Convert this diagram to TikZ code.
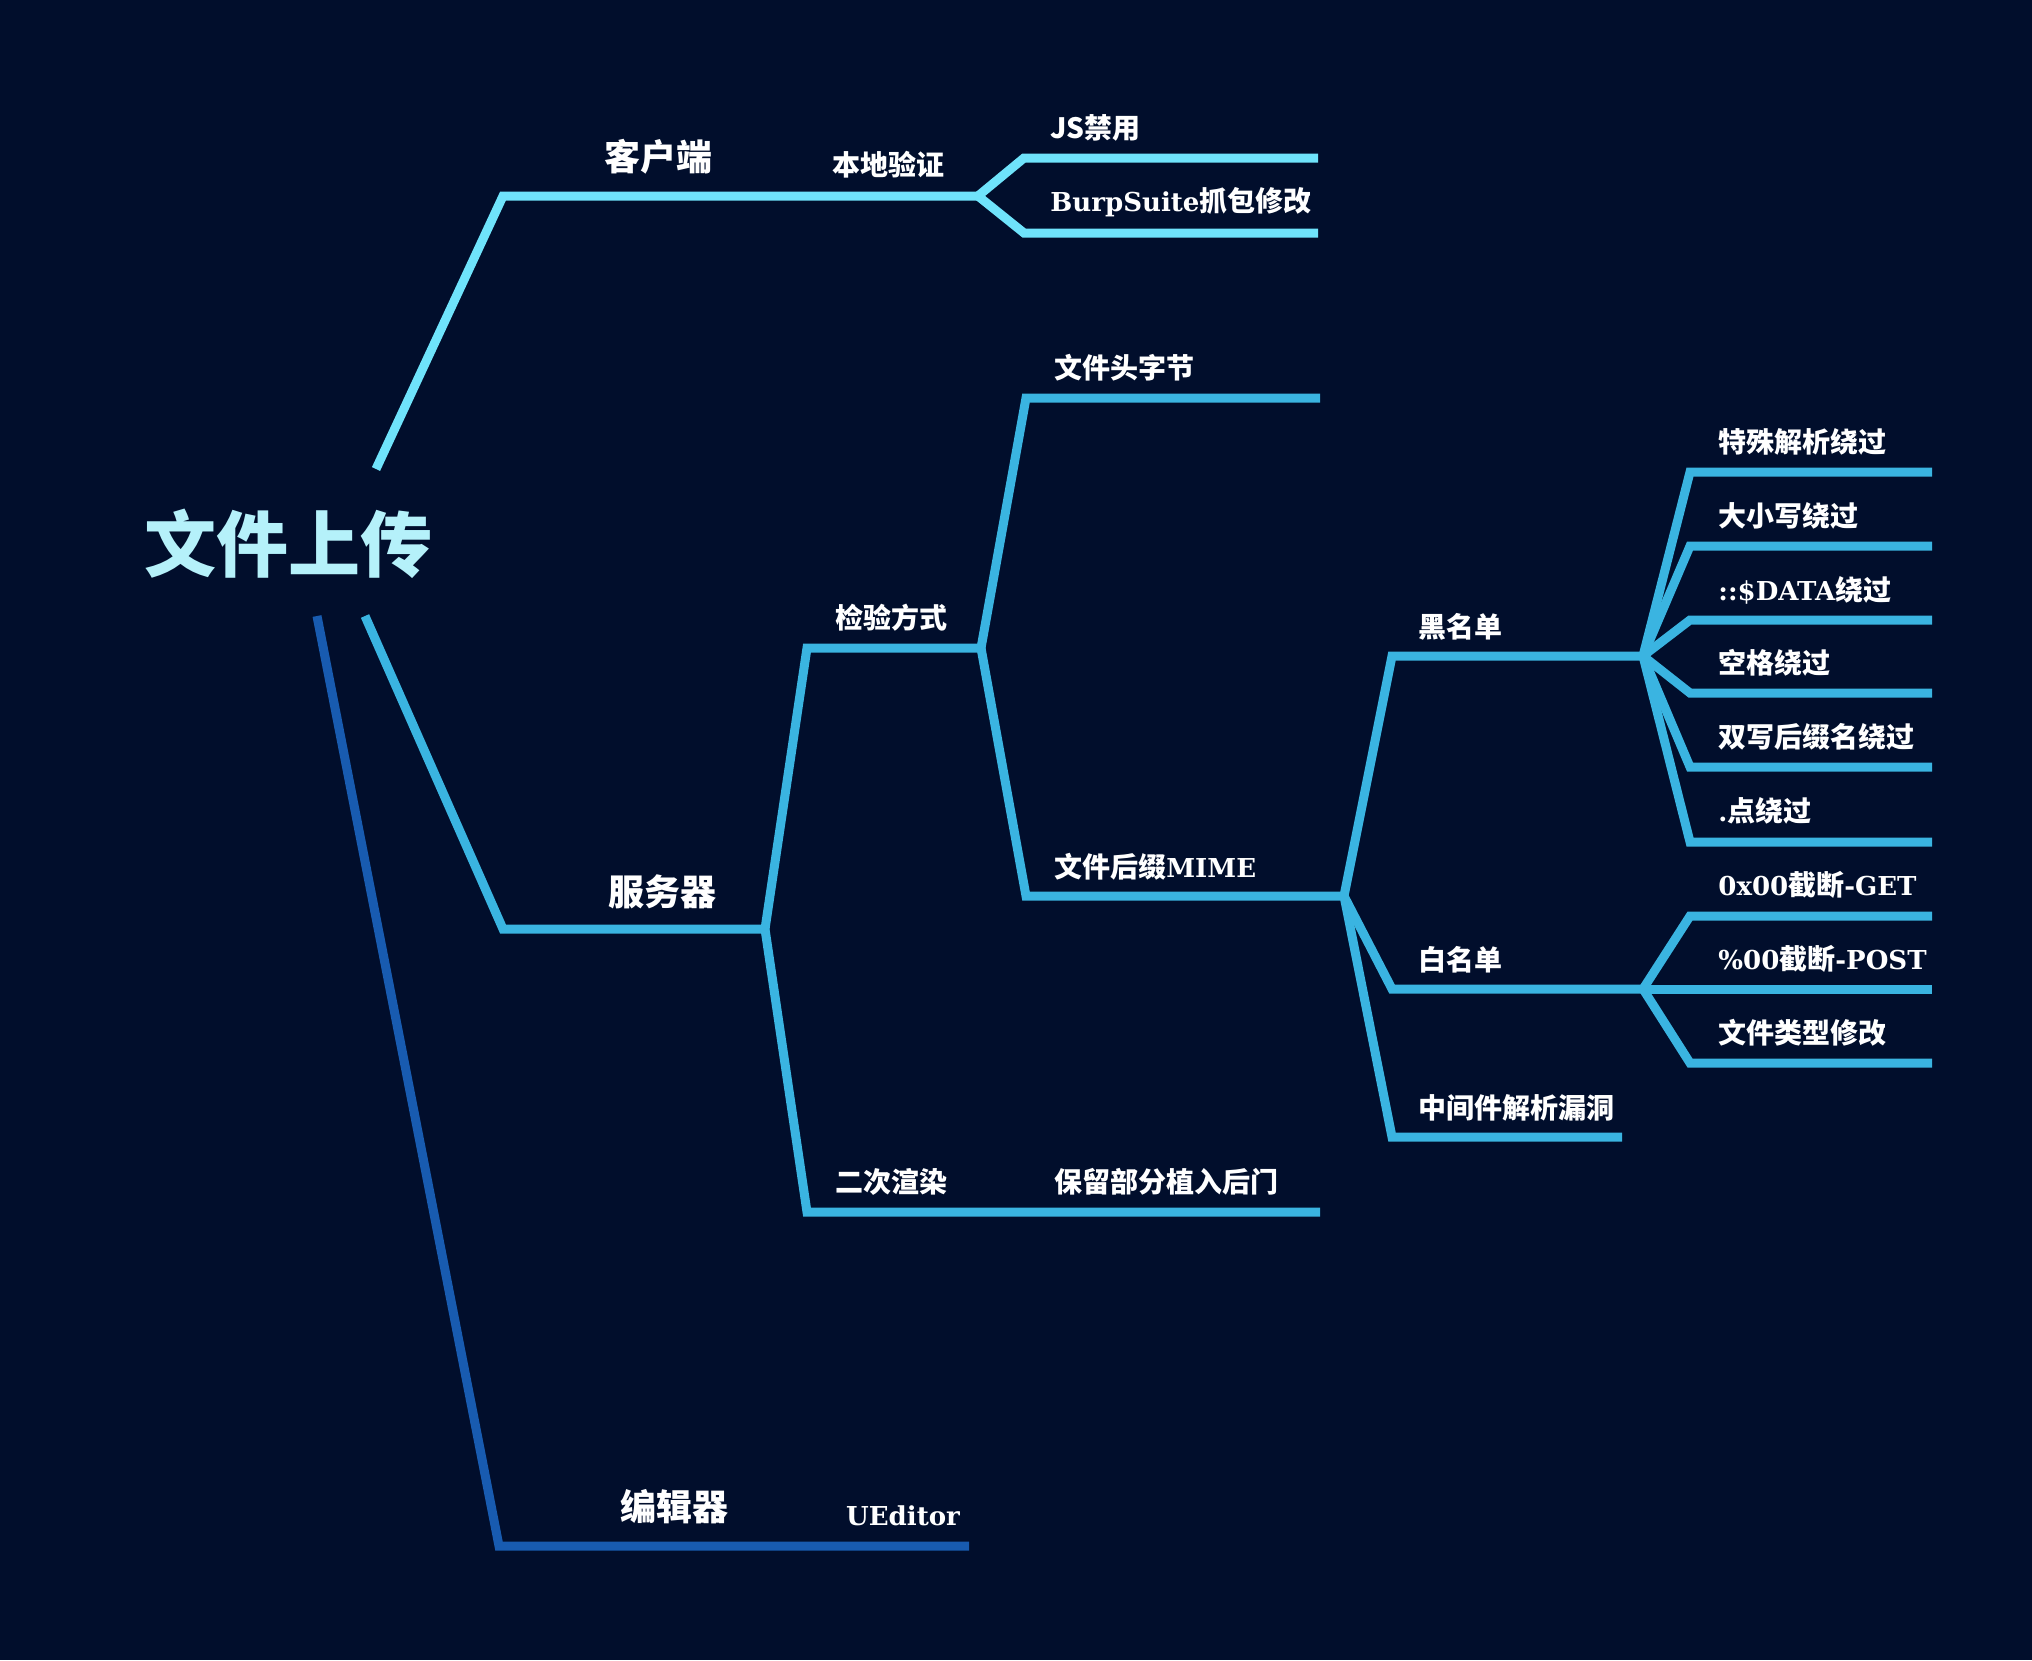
\documentclass[tikz,border=0pt]{standalone}
\usepackage{fontspec}
\setmainfont{Noto Sans CJK SC}
\newfontfamily\latf[Scale=0.93]{DejaVu Serif}
\newcommand\latw[1]{{\latf #1}}
\definecolor{bgc}{HTML}{010E2C}
\definecolor{clc}{HTML}{6FE3FB}
\definecolor{svc}{HTML}{3AB4E1}
\definecolor{edc}{HTML}{185BB0}
\definecolor{rootc}{HTML}{B5F1FA}
\begin{document}
\begin{tikzpicture}[x=0.5pt,y=-0.5pt,
  lbl/.style={text=white, inner sep=0pt, font=\bfseries\fontsize{14}{16}\selectfont},
  big/.style={text=white, inner sep=0pt, font=\bfseries\fontsize{18}{20}\selectfont},
  cl/.style={draw=clc, line width=4.5pt, line join=miter},
  sv/.style={draw=svc, line width=4.5pt, line join=miter},
  ed/.style={draw=edc, line width=4.5pt, line join=miter}]
\fill[bgc] (0,0) rectangle (2032,1660);
\useasboundingbox (0,0) rectangle (2032,1660);

% root
\node[text=rootc, inner sep=0pt, font=\bfseries\fontsize{36}{40}\selectfont] (root) at (288,544) {文件上传};

% ---------- client ----------
\coordinate (cS) at (376,469);
\coordinate (cB) at (503,196);
\coordinate (cE) at (978,196);
\draw[cl] (cS) -- (cB) -- (cE);
\coordinate (c1b) at (1024,158); \coordinate (c1e) at (1318,158);
\coordinate (c2b) at (1024,233); \coordinate (c2e) at (1318,233);
\draw[cl] (cE) -- (c1b) -- (c1e);
\draw[cl] (cE) -- (c2b) -- (c2e);
\node[big] (client) at (658,157) {客户端};
\node[lbl] (local) at (888,165) {本地验证};
\node[lbl, anchor=west] (js) at (1050,128) {JS禁用};
\node[lbl, anchor=west] (burp) at (1050,202) {\latw{BurpSuite}抓包修改};

% ---------- server ----------
\coordinate (sS) at (365,616);
\coordinate (sB) at (503,929);
\coordinate (sE) at (765,929);
\draw[sv] (sS) -- (sB) -- (sE);
\node[big] (server) at (662,892) {服务器};

\coordinate (jB) at (807,648); \coordinate (jE) at (981,648);
\draw[sv] (sE) -- (jB) -- (jE);
\node[lbl] (check) at (891,618) {检验方式};

\coordinate (rB) at (807,1212); \coordinate (rE) at (1320,1212);
\draw[sv] (sE) -- (rB) -- (rE);
\node[lbl] (render) at (891,1182) {二次渲染};
\node[lbl, anchor=west] (keep) at (1054,1182) {保留部分植入后门};

\coordinate (hB) at (1026,398); \coordinate (hE) at (1320,398);
\draw[sv] (jE) -- (hB) -- (hE);
\node[lbl, anchor=west] (head) at (1054,368) {文件头字节};

\coordinate (mB) at (1026,896); \coordinate (mE) at (1344,896);
\draw[sv] (jE) -- (mB) -- (mE);
\node[lbl, anchor=west] (mime) at (1054,867) {文件后缀\latw{MIME}};

\coordinate (bB) at (1392,656); \coordinate (bE) at (1643,656);
\draw[sv] (mE) -- (bB) -- (bE);
\node[lbl, anchor=west] (black) at (1418,627) {黑名单};

\coordinate (wB) at (1392,989); \coordinate (wE) at (1643,989);
\draw[sv] (mE) -- (wB) -- (wE);
\node[lbl, anchor=west] (white) at (1418,960) {白名单};

\coordinate (zB) at (1392,1137); \coordinate (zE) at (1622,1137);
\draw[sv] (mE) -- (zB) -- (zE);
\node[lbl, anchor=west] (mid) at (1418,1108) {中间件解析漏洞};

% blacklist leaves
\foreach \y/\n in {472/b1,546/b2,620/b3,693/b4,767/b5,842/b6}{
  \coordinate (\n B) at (1690,\y);
  \coordinate (\n E) at (1932,\y);
  \draw[sv] (bE) -- (\n B) -- (\n E);
}
\node[lbl, anchor=west] (t1) at (1718,442) {特殊解析绕过};
\node[lbl, anchor=west] (t2) at (1718,516) {大小写绕过};
\node[lbl, anchor=west] (t3) at (1718,590) {\latw{::\$DATA}绕过};
\node[lbl, anchor=west] (t4) at (1718,663) {空格绕过};
\node[lbl, anchor=west] (t5) at (1718,737) {双写后缀名绕过};
\node[lbl, anchor=west] (t6) at (1718,811) {\latw{.}点绕过};

% whitelist leaves
\coordinate (w1B) at (1690,916); \coordinate (w1E) at (1932,916);
\coordinate (w2E) at (1932,989);
\coordinate (w3B) at (1690,1063); \coordinate (w3E) at (1932,1063);
\draw[sv] (wE) -- (w1B) -- (w1E);
\draw[sv] (wE) -- (w2E);
\draw[sv] (wE) -- (w3B) -- (w3E);
\node[lbl, anchor=west] (u1) at (1718,885) {\latw{0x00}截断\latw{-GET}};
\node[lbl, anchor=west] (u2) at (1718,959) {\latw{\%00}截断\latw{-POST}};
\node[lbl, anchor=west] (u3) at (1718,1033) {文件类型修改};

% ---------- editor ----------
\coordinate (eS) at (317,616);
\coordinate (eB) at (499,1546);
\coordinate (eE) at (969,1546);
\draw[ed] (eS) -- (eB) -- (eE);
\node[big] (editor) at (674,1507) {编辑器};
\node[lbl] (ueditor) at (903,1516) {\latw{UEditor}};
\end{tikzpicture}
\end{document}
